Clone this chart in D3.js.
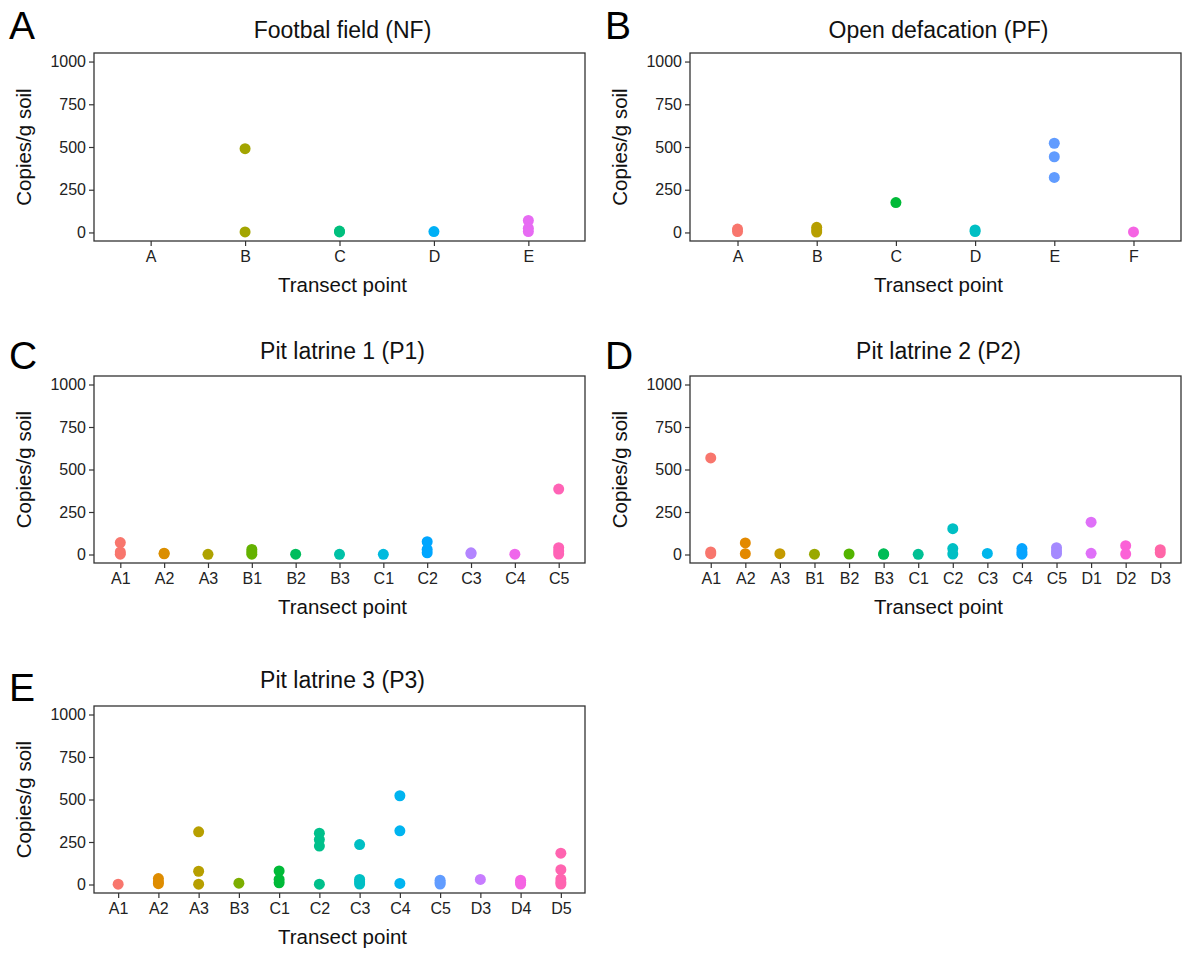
<!DOCTYPE html>
<html><head><meta charset="utf-8">
<script src="https://cdn.jsdelivr.net/npm/d3@7"></script>
<style>
body{margin:0;background:#fff}
svg{display:block}
text{font-family:"Liberation Sans",Arial,sans-serif}
</style>
</head><body><svg id="c" width="1186" height="953"></svg>
<script>
// ---------- data ----------
const yTicks = [0, 250, 500, 750, 1000];

const nfCats = ["A", "B", "C", "D", "E"];
const nfValues = [[], [490, 3], [8, 3], [5], [70, 25, 5]];

const pfCats = ["A", "B", "C", "D", "E", "F"];
const pfValues = [[20, 5], [30, 15, 2], [175], [15, 5], [522, 443, 322], [3]];

const p1Cats = ["A1", "A2", "A3", "B1", "B2", "B3", "C1", "C2", "C3", "C4", "C5"];
const p1Values = [[70, 15, 2], [8, 4], [1], [30, 15, 2], [2], [1], [1], [75, 30, 10], [10, 5], [2], [385, 40, 20, 3]];

const p2Cats = ["A1", "A2", "A3", "B1", "B2", "B3", "C1", "C2", "C3", "C4", "C5", "D1", "D2", "D3"];
const p2Values = [[568, 15, 5], [68, 5], [5], [2], [3], [4, 1], [1], [152, 35, 3], [6], [35, 15, 2], [40, 20, 5], [190, 7], [52, 3], [28, 10]];

const p3Cats = ["A1", "A2", "A3", "B3", "C1", "C2", "C3", "C4", "C5", "D3", "D4", "D5"];
const p3Values = [[2], [35, 15, 5], [310, 78, 2], [8], [80, 30, 10], [302, 264, 226, 2], [235, 30, 15, 3], [522, 316, 6], [25, 12, 3], [30], [25, 12, 3], [184, 87, 32, 14, 3]];

// ggplot default hue palettes
const pal5 = ["#F8766D", "#A3A500", "#00BF7D", "#00B0F6", "#E76BF3"];
const pal6 = ["#F8766D", "#B79F00", "#00BA38", "#00BFC4", "#619CFF", "#F564E3"];
const pal11 = ["#F8766D", "#DB8E00", "#AEA200", "#64B200", "#00BD5C", "#00C1A7", "#00BADE", "#00A6FF", "#B385FF", "#EF67EB", "#FF63B6"];
const pal12 = ["#F8766D", "#DE8C00", "#B79F00", "#7CAE00", "#00BA38", "#00C08B", "#00BFC4", "#00B4F0", "#619CFF", "#C77CFF", "#F564E3", "#FF64B0"];
const pal14 = ["#F8766D", "#E38900", "#C49A00", "#99A800", "#53B400", "#00BC56", "#00C094", "#00BFC4", "#00B6EB", "#06A4FF", "#A58AFF", "#DF70F8", "#FB61D7", "#FF66A8"];

// ---------- layout ----------
const panels = [
  {letter: "A", title: "Footbal field (NF)", cats: nfCats, vals: nfValues, pal: pal5, x0: 94, x1: 585, y0: 53, y1: 241, titleY: 38, letterY: 39},
  {letter: "B", title: "Open defacation (PF)", cats: pfCats, vals: pfValues, pal: pal6, x0: 690, x1: 1181, y0: 53, y1: 241, titleY: 38, letterY: 39},
  {letter: "C", title: "Pit latrine 1 (P1)", cats: p1Cats, vals: p1Values, pal: pal11, x0: 94, x1: 585, y0: 376, y1: 563, titleY: 359, letterY: 369},
  {letter: "D", title: "Pit latrine 2 (P2)", cats: p2Cats, vals: p2Values, pal: pal14, x0: 690, x1: 1181, y0: 376, y1: 563, titleY: 359, letterY: 369},
  {letter: "E", title: "Pit latrine 3 (P3)", cats: p3Cats, vals: p3Values, pal: pal12, x0: 94, x1: 585, y0: 706, y1: 893, titleY: 688, letterY: 701}
];

const svg = d3.select("#c");
const axisCol = "#333";

panels.forEach(p => {
  const g = svg.append("g");
  const x = d3.scalePoint().domain(p.cats).range([p.x0, p.x1]).padding(0.6);
  const y = d3.scaleLinear().domain([-50, 1050]).range([p.y1, p.y0]);
  const color = d3.scaleOrdinal().domain(p.cats).range(p.pal);

  // y axis
  const ya = g.append("g").attr("transform", `translate(${p.x0},0)`)
    .call(d3.axisLeft(y).tickValues(yTicks).tickFormat(d3.format("d")).tickSize(5).tickPadding(3));
  ya.select(".domain").remove();
  ya.selectAll(".tick line").attr("stroke", axisCol).attr("stroke-width", 1.2);
  ya.selectAll(".tick text").attr("fill", "#222").style("font-size", "16px");

  // x axis
  const xa = g.append("g").attr("transform", `translate(0,${p.y1})`)
    .call(d3.axisBottom(x).tickSize(5).tickPadding(5));
  xa.select(".domain").remove();
  xa.selectAll(".tick line").attr("stroke", axisCol).attr("stroke-width", 1.2);
  xa.selectAll(".tick text").attr("fill", "#222").style("font-size", "16px");

  // points
  const pts = [];
  p.cats.forEach((c, i) => p.vals[i].forEach(v => pts.push({c, v})));
  g.append("g").selectAll("circle").data(pts).join("circle")
    .attr("cx", d => x(d.c)).attr("cy", d => y(d.v)).attr("r", 5.5)
    .attr("fill", d => color(d.c));

  // panel border
  g.append("rect").attr("x", p.x0).attr("y", p.y0)
    .attr("width", p.x1 - p.x0).attr("height", p.y1 - p.y0)
    .attr("fill", "none").attr("stroke", axisCol).attr("stroke-width", 1.3);

  const cx = (p.x0 + p.x1) / 2;
  // title
  g.append("text").attr("x", cx + 3).attr("y", p.titleY).attr("text-anchor", "middle")
    .style("font-size", "23px").attr("fill", "#111").text(p.title);
  // x title
  g.append("text").attr("x", cx + 3).attr("y", p.y1 + 51).attr("text-anchor", "middle")
    .style("font-size", "20.5px").attr("fill", "#111").text("Transect point");
  // y title
  g.append("text").attr("transform", `translate(${p.x0 - 63},${(p.y0 + p.y1) / 2}) rotate(-90)`)
    .attr("text-anchor", "middle").style("font-size", "20.5px").attr("fill", "#111").text("Copies/g soil");
  // panel letter
  g.append("text").attr("x", p.x0 - 85).attr("y", p.letterY)
    .style("font-size", "39px").attr("fill", "#000").text(p.letter);
});
</script>
</body></html>
